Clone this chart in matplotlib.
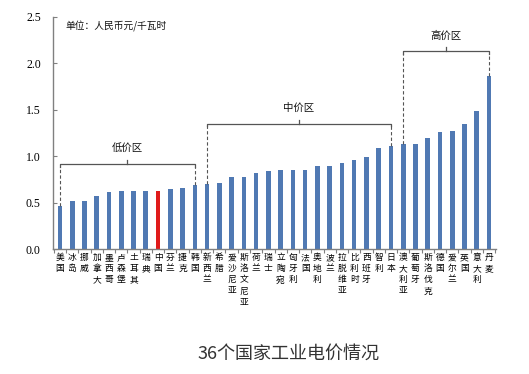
import matplotlib
matplotlib.use("Agg")
import matplotlib.pyplot as plt
import numpy as np

plt.rcParams['font.family'] = ['Noto Sans CJK SC', 'DejaVu Sans']

countries = ["美国", "冰岛", "挪威", "加拿大", "墨西哥", "卢森堡", "土耳其", "瑞典", "中国",
             "芬兰", "捷克", "韩国", "新西兰", "希腊", "爱沙尼亚", "斯洛文尼亚", "荷兰", "瑞士",
             "立陶宛", "匈牙利", "法国", "奥地利", "波兰", "拉脱维亚", "比利时", "西班牙", "智利",
             "日本", "澳大利亚", "葡萄牙", "斯洛伐克", "德国", "爱尔兰", "英国", "意大利", "丹麦"]
prices = [0.46, 0.52, 0.52, 0.57, 0.61, 0.62, 0.62, 0.62, 0.625,
          0.65, 0.655, 0.685, 0.70, 0.71, 0.77, 0.78, 0.815, 0.835,
          0.845, 0.85, 0.855, 0.895, 0.895, 0.925, 0.955, 0.99, 1.09,
          1.105, 1.13, 1.13, 1.195, 1.26, 1.265, 1.345, 1.48, 1.86]
highlight = "中国"
zones = [("低价区", 0, 11, 0.915, 1.085),
         ("中价区", 12, 27, 1.35, 1.52),
         ("高价区", 28, 35, 2.13, 2.30)]
yticks = [0.0, 0.5, 1.0, 1.5, 2.0, 2.5]
unit_text = "单位：人民币元/千瓦时"
title = "36个国家工业电价情况"

W, H = 529, 374
fig = plt.figure(figsize=(W / 100, H / 100), dpi=100)
ax = fig.add_axes([53.3 / W, 1 - 249 / H, (495.7 - 53.3) / W, (249 - 16.7) / H])

x = np.arange(len(countries))
colors = ["#e01b1b" if c == highlight else "#5079b3" for c in countries]
ax.bar(x, prices, width=0.38, color=colors, zorder=2)

ax.set_xlim(-0.55, len(countries) - 0.45)
ax.set_ylim(0, 2.5)
ax.set_yticks(yticks)
ax.set_yticklabels([f"{v:.1f}" for v in yticks], family="Liberation Serif", fontsize=8.5)
ax.tick_params(axis='y', direction='in', length=3, width=0.8, color="#808080", pad=9)

ax.set_xticks(x)
ax.set_xticklabels(["\n".join(c) for c in countries], fontsize=6.3, linespacing=1.3,
                   va='top')
ax.tick_params(axis='x', which='major', length=0, pad=3.0)
ax.set_xticks(np.arange(-0.5, len(countries), 1.0), minor=True)
ax.tick_params(axis='x', which='minor', direction='out', length=3, width=0.8, color="#808080")

for s in ["top", "right"]:
    ax.spines[s].set_visible(False)
for s in ["left", "bottom"]:
    ax.spines[s].set_color("#808080")
    ax.spines[s].set_linewidth(1.0)

lc = "#555555"
for label, i0, i1, yb, yl in zones:
    hook = 0.03
    ax.plot([i0, i0, i1, i1], [yb - hook, yb, yb, yb - hook], color=lc, lw=0.9, zorder=3)
    xm = (i0 + i1) / 2
    ax.plot([xm, xm], [yb, yb + 0.04], color=lc, lw=0.9, zorder=3)
    ax.plot([i0, i0], [prices[i0], yb - hook], color=lc, lw=0.8, ls=(0, (3, 2)), zorder=3)
    ax.plot([i1, i1], [prices[i1], yb - hook], color=lc, lw=0.8, ls=(0, (3, 2)), zorder=3)
    ax.text(xm, yl, label, ha='center', va='center', fontsize=7.5, color="#111111")

fig.text(65 / W, 1 - 26.7 / H, unit_text, ha='left', va='center', fontsize=7, color="#111111")
fig.text(288 / W, 1 - 354 / H, title, ha='center', va='center', fontsize=13, color="#333333")

fig.savefig("out.png", dpi=100)
